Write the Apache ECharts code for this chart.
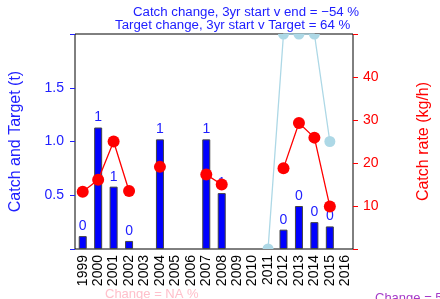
<!DOCTYPE html>
<html>
<head>
<meta charset="utf-8">
<script src="https://cdn.jsdelivr.net/npm/echarts@6/dist/echarts.min.js"></script>
<style>html,body{margin:0;padding:0;background:#fff;}#c{width:440px;height:299px;}</style>
</head>
<body>
<div id="c"></div>
<script>
const years = ['1999','2000','2001','2002','2003','2004','2005','2006','2007','2008','2009','2010','2011','2012','2013','2014','2015','2016'];
const catchT = [0.12, 1.13, 0.58, 0.075, null, 1.02, null, null, 1.02, 0.52, null, null, null, 0.18, 0.40, 0.25, 0.21, null];
const catchRate = [13.3, 16.1, 25.0, 13.5, null, 19.1, null, null, 17.3, 15.0, null, null, null, 18.8, 29.3, 25.9, 9.9, null];
const target = [null, null, null, null, null, null, null, null, null, null, null, null, 0, 2.0, 2.0, 2.0, 1.0, null];
const titleLines = ['Catch change, 3yr start v end = \u221254 %', 'Target change, 3yr start v Target = 64 %'];
const footLeft = 'Change = NA %';
const footRight = 'Change = 5 %';

const FONT = 'Liberation Sans, Arial, sans-serif';
const BLUE = '#2020ff';
const LEFT_MAX = 2.0, RIGHT_MAX = 50;

const targetData = target.map(v => {
  if (v === null) return null;
  if (v >= LEFT_MAX) return {value: v, symbol: 'path://M0,0 A5,5 0 0 0 10,0 Z', symbolSize: [11, 5.5], symbolOffset: [0, 2.75]};
  if (v <= 0) return {value: v, symbol: 'path://M0,5 A5,5 0 0 1 10,5 Z', symbolSize: [11, 5.5], symbolOffset: [0, -2.75]};
  return v;
});

const chart = echarts.init(document.getElementById('c'), null, {renderer: 'canvas'});
chart.setOption({
  animation: false,
  backgroundColor: '#fff',
  textStyle: {fontFamily: FONT},
  grid: {left: 75, right: 79, top: 34, bottom: 50, show: true, borderColor: '#000', borderWidth: 1, backgroundColor: 'transparent'},
  xAxis: {
    type: 'category', data: years, boundaryGap: true,
    axisLine: {show: false}, axisTick: {show: false},
    axisLabel: {rotate: 90, margin: 6, color: '#000', fontSize: 14, fontFamily: FONT, interval: 0},
    splitLine: {show: false}
  },
  yAxis: [
    {
      type: 'value', min: 0, max: LEFT_MAX, interval: 0.5, position: 'left',
      name: 'Catch and Target (t)', nameLocation: 'middle', nameGap: 51,
      nameTextStyle: {color: BLUE, fontSize: 16, fontFamily: FONT},
      axisLine: {show: false},
      axisTick: {show: true, length: 5, lineStyle: {color: BLUE}},
      axisLabel: {color: BLUE, fontSize: 14, margin: 11, fontFamily: FONT,
        formatter: v => (v === 0 || v === LEFT_MAX) ? '' : v.toFixed(1)},
      splitLine: {show: false}
    },
    {
      type: 'value', min: 0, max: RIGHT_MAX, interval: 10, position: 'right',
      name: 'Catch rate (kg/h)', nameLocation: 'middle', nameGap: 63,
      nameTextStyle: {color: 'red', fontSize: 16, fontFamily: FONT},
      axisLine: {show: false},
      axisTick: {show: true, length: 5, lineStyle: {color: 'red'}},
      axisLabel: {color: 'red', fontSize: 14, margin: 10, fontFamily: FONT,
        formatter: v => (v === 0 || v === RIGHT_MAX) ? '' : String(v)},
      splitLine: {show: false}
    }
  ],
  graphic: [
    {type: 'text', z: 100, style: {text: titleLines[0], x: 133, y: 12, align: 'left', verticalAlign: 'middle', fill: BLUE, font: '13.25px ' + FONT}},
    {type: 'text', z: 100, style: {text: titleLines[1], x: 115, y: 25, align: 'left', verticalAlign: 'middle', fill: BLUE, font: '13.25px ' + FONT}},
    {type: 'text', z: 100, style: {text: footLeft, x: 105, y: 294, align: 'left', verticalAlign: 'middle', fill: '#ffc0cb', font: '13px ' + FONT}},
    {type: 'text', z: 100, style: {text: footRight, x: 375, y: 298, align: 'left', verticalAlign: 'middle', fill: '#a53ac8', font: '13px ' + FONT}}
  ],
  series: [
    {
      type: 'bar', yAxisIndex: 0, data: catchT, barWidth: 8, z: 2,
      itemStyle: {color: '#0000ff', borderColor: '#444', borderWidth: 1},
      label: {show: true, position: 'top', distance: 3, color: BLUE, fontSize: 14, fontFamily: FONT,
        formatter: p => String(Math.round(p.value))}
    },
    {
      type: 'line', yAxisIndex: 1, data: catchRate, z: 4, connectNulls: false,
      symbol: 'circle', symbolSize: 12, showSymbol: true,
      lineStyle: {color: 'red', width: 1.3}, itemStyle: {color: 'red'}
    },
    {
      type: 'line', yAxisIndex: 0, data: targetData, z: 3, connectNulls: false, clip: true,
      symbol: 'circle', symbolSize: 11, showSymbol: true,
      lineStyle: {color: '#add8e6', width: 1.3}, itemStyle: {color: '#add8e6'}
    }
  ]
});
</script>
</body>
</html>
